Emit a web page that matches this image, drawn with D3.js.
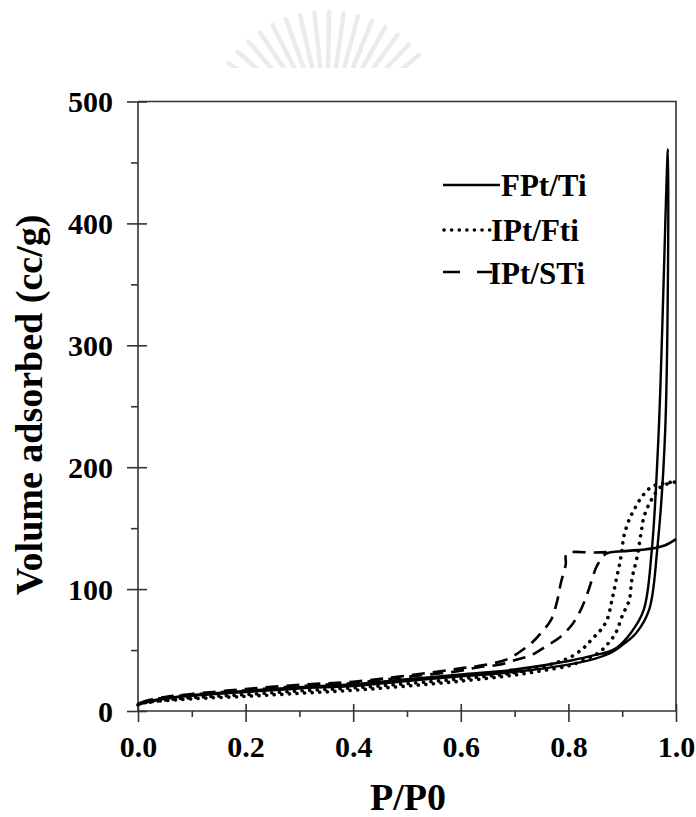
<!DOCTYPE html>
<html>
<head>
<meta charset="utf-8">
<script src="https://cdn.jsdelivr.net/npm/d3@7"></script>
<style>
  body { margin: 0; background: #fff; }
  svg { display: block; }
  text { font-family: "Liberation Serif", "Times New Roman", serif; font-weight: bold; fill: #000; }
</style>
</head>
<body>
<div id="chart"></div>
<script>
// [P/P0, volume], adsorption then desorption branch
var fptTiAds = [[0, 5], [0.02, 7.5], [0.05, 10], [0.1, 12.5], [0.2, 15.5], [0.3, 18.5], [0.4, 20.5], [0.5, 24.5], [0.6, 28.5], [0.7, 32], [0.8, 38], [0.85, 43], [0.88, 48], [0.9, 54], [0.926, 64], [0.95, 83], [0.965, 132], [0.98, 231], [0.985, 461]];
var fptTiDes = [[0.985, 461], [0.968, 231], [0.955, 132], [0.94, 83], [0.916, 64], [0.89, 52], [0.87, 48], [0.85, 46], [0.8, 41], [0.7, 34], [0.6, 30], [0.5, 26], [0.4, 22], [0.3, 19.5], [0.2, 16.5], [0.1, 13], [0.05, 10.5], [0.02, 8]];

var iptFtiAds = [[0, 5], [0.02, 7.5], [0.05, 8.5], [0.1, 10], [0.2, 12], [0.3, 14.5], [0.4, 17], [0.5, 20.5], [0.6, 24.5], [0.7, 29.5], [0.75, 33], [0.8, 37], [0.83, 42], [0.857, 48], [0.875, 56], [0.888, 64], [0.9, 78], [0.913, 91], [0.918, 108], [0.928, 127], [0.935, 146], [0.941, 160], [0.954, 173], [0.972, 184], [0.99, 187], [1.0, 188]];
var iptFtiDes = [[1.0, 188], [0.98, 187], [0.955, 184], [0.937, 176], [0.922, 165], [0.913, 157], [0.903, 143], [0.898, 127], [0.89, 110], [0.881, 91], [0.872, 75], [0.861, 67], [0.844, 59], [0.829, 52], [0.807, 45], [0.78, 40], [0.7, 31.5], [0.6, 26.5], [0.5, 22.5], [0.4, 19], [0.3, 16.5], [0.2, 13.5], [0.1, 11], [0.05, 9], [0.02, 7]];

var iptStiAds = [[0, 6], [0.02, 9], [0.05, 11], [0.1, 13.5], [0.2, 17], [0.3, 20.5], [0.4, 23], [0.5, 28], [0.6, 33], [0.634, 36], [0.671, 38], [0.703, 42], [0.732, 46], [0.758, 53], [0.783, 60], [0.807, 71], [0.823, 83], [0.835, 96], [0.844, 108], [0.853, 119], [0.87, 129], [0.9, 131], [0.95, 133], [0.98, 136], [1.0, 141]];
var iptStiDes = [[1.0, 141], [0.98, 136], [0.95, 133], [0.9, 131], [0.85, 130], [0.797, 129], [0.795, 120], [0.786, 105], [0.779, 90], [0.768, 75], [0.751, 65], [0.732, 56], [0.708, 48], [0.684, 42], [0.634, 37], [0.6, 35], [0.5, 29], [0.4, 24], [0.3, 21.5], [0.2, 18], [0.1, 14], [0.05, 11.5], [0.02, 9]];

var seriesNames = ["FPt/Ti", "IPt/Fti", "IPt/STi"];
var xTicks = [0, 0.2, 0.4, 0.6, 0.8, 1.0];
var yTicks = [0, 100, 200, 300, 400, 500];

var W = 696, H = 817;
var margin = {top: 101.5, right: 20, bottom: 106, left: 138};
var width = 676 - margin.left;
var height = 711 - margin.top;

var svg = d3.select("#chart").append("svg")
    .attr("width", W)
    .attr("height", H);

// faint watermark fan at the top
var wm = svg.append("g");
wm.append("clipPath").attr("id", "wmclip")
    .append("rect").attr("x", 0).attr("y", 0).attr("width", W).attr("height", 68);
var rays = d3.range(-145, -34, 7);
wm.append("g").attr("clip-path", "url(#wmclip)")
    .selectAll("line").data(rays).enter().append("line")
    .attr("x1", function(a) { return 327 + 66 * Math.cos(a * Math.PI / 180); })
    .attr("y1", function(a) { return 132 + 66 * Math.sin(a * Math.PI / 180); })
    .attr("x2", function(a) { return 327 + 120 * Math.cos(a * Math.PI / 180); })
    .attr("y2", function(a) { return 132 + 120 * Math.sin(a * Math.PI / 180); })
    .attr("stroke", "#ebebeb")
    .attr("stroke-width", 4.5)
    .attr("stroke-linecap", "round");

var g = svg.append("g")
    .attr("transform", "translate(" + margin.left + "," + margin.top + ")");

var x = d3.scaleLinear().domain([0, 1]).range([0, width]);
var y = d3.scaleLinear().domain([0, 500]).range([height, 0]);

// frame (top and right)
g.append("path")
    .attr("d", "M0,0H" + width + "V" + height)
    .attr("fill", "none")
    .attr("stroke", "#333")
    .attr("stroke-width", 1.6);

// minor ticks
g.append("g")
    .attr("transform", "translate(0," + height + ")")
    .call(d3.axisBottom(x).tickValues(d3.range(0.1, 1, 0.2)).tickSize(6).tickFormat(""))
    .call(function(s) { s.select(".domain").remove(); s.selectAll("line").attr("stroke", "#333").attr("stroke-width", 1.6); });
g.append("g")
    .call(d3.axisLeft(y).tickValues(d3.range(50, 500, 100)).tickSize(7).tickFormat(""))
    .call(function(s) { s.select(".domain").remove(); s.selectAll("line").attr("stroke", "#333").attr("stroke-width", 1.6); });

// x axis
var xAxis = g.append("g")
    .attr("transform", "translate(0," + height + ")")
    .call(d3.axisBottom(x).tickValues(xTicks).tickSize(11).tickPadding(0).tickFormat(d3.format(".1f")));
xAxis.select(".domain").attr("d", "M0,0H" + width).attr("stroke", "#333").attr("stroke-width", 1.6);
xAxis.selectAll(".tick line").attr("y1", -7).attr("stroke", "#333").attr("stroke-width", 1.6);
xAxis.selectAll(".tick text")
    .attr("y", 46).attr("dy", null)
    .style("font-size", "30px")
    .style("font-family", "'Liberation Serif', 'Times New Roman', serif")
    .style("font-weight", "bold").attr("fill", "#000");

// y axis
var yAxis = g.append("g")
    .call(d3.axisLeft(y).tickValues(yTicks).tickSize(11).tickPadding(0));
yAxis.select(".domain").attr("d", "M0," + height + "V0").attr("stroke", "#333").attr("stroke-width", 1.6);
yAxis.selectAll(".tick line").attr("x1", 9).attr("stroke", "#333").attr("stroke-width", 1.6);
yAxis.selectAll(".tick text")
    .attr("x", -25).attr("dy", "0.34em")
    .style("font-size", "30px")
    .style("font-family", "'Liberation Serif', 'Times New Roman', serif")
    .style("font-weight", "bold").attr("fill", "#000");

// curves
var line = d3.line()
    .x(function(d) { return x(d[0]); })
    .y(function(d) { return y(d[1]); })
    .curve(d3.curveCatmullRom.alpha(0.5));

var styles = [
    {dash: null, width: 2.4, cap: "butt"},
    {dash: "0.1 7.5", width: 3.6, cap: "round"},
    {dash: "13 8", width: 2.6, cap: "butt"}
];
var loops = [fptTiAds.concat(fptTiDes.slice(1)), iptFtiAds.concat(iptFtiDes.slice(1)), iptStiAds.concat(iptStiDes.slice(1))];

g.selectAll(".iso")
    .data(loops)
    .enter().append("path")
    .attr("class", "iso")
    .attr("d", line)
    .attr("fill", "none")
    .attr("stroke", "#000")
    .attr("stroke-width", function(d, i) { return styles[i].width; })
    .attr("stroke-dasharray", function(d, i) { return styles[i].dash; })
    .attr("stroke-linecap", function(d, i) { return styles[i].cap; });

// legend
var legend = svg.append("g");
var legendRows = [
    {y: 185, x1: 443, x2: 500, tx: 501, base: 196},
    {y: 230, x1: 444, x2: 492, tx: 491, base: 241},
    {y: 272, x1: 443, x2: 492, tx: 489, base: 284}
];
seriesNames.forEach(function(name, i) {
    var r = legendRows[i];
    legend.append("line")
        .attr("x1", r.x1).attr("x2", r.x2)
        .attr("y1", r.y).attr("y2", r.y)
        .attr("stroke", "#000")
        .attr("stroke-width", styles[i].width)
        .attr("stroke-dasharray", i === 2 ? "17 17" : styles[i].dash)
        .attr("stroke-linecap", styles[i].cap);
    legend.append("text")
        .attr("x", r.tx).attr("y", r.base)
        .style("font-size", "31px")
        .text(name);
});

// axis titles
svg.append("text")
    .attr("x", 408).attr("y", 810)
    .attr("text-anchor", "middle")
    .style("font-size", "38px")
    .text("P/P0");

svg.append("text")
    .attr("transform", "translate(42,405) rotate(-90)")
    .attr("text-anchor", "middle")
    .style("font-size", "38px")
    .text("Volume adsorbed (cc/g)");
</script>
</body>
</html>
